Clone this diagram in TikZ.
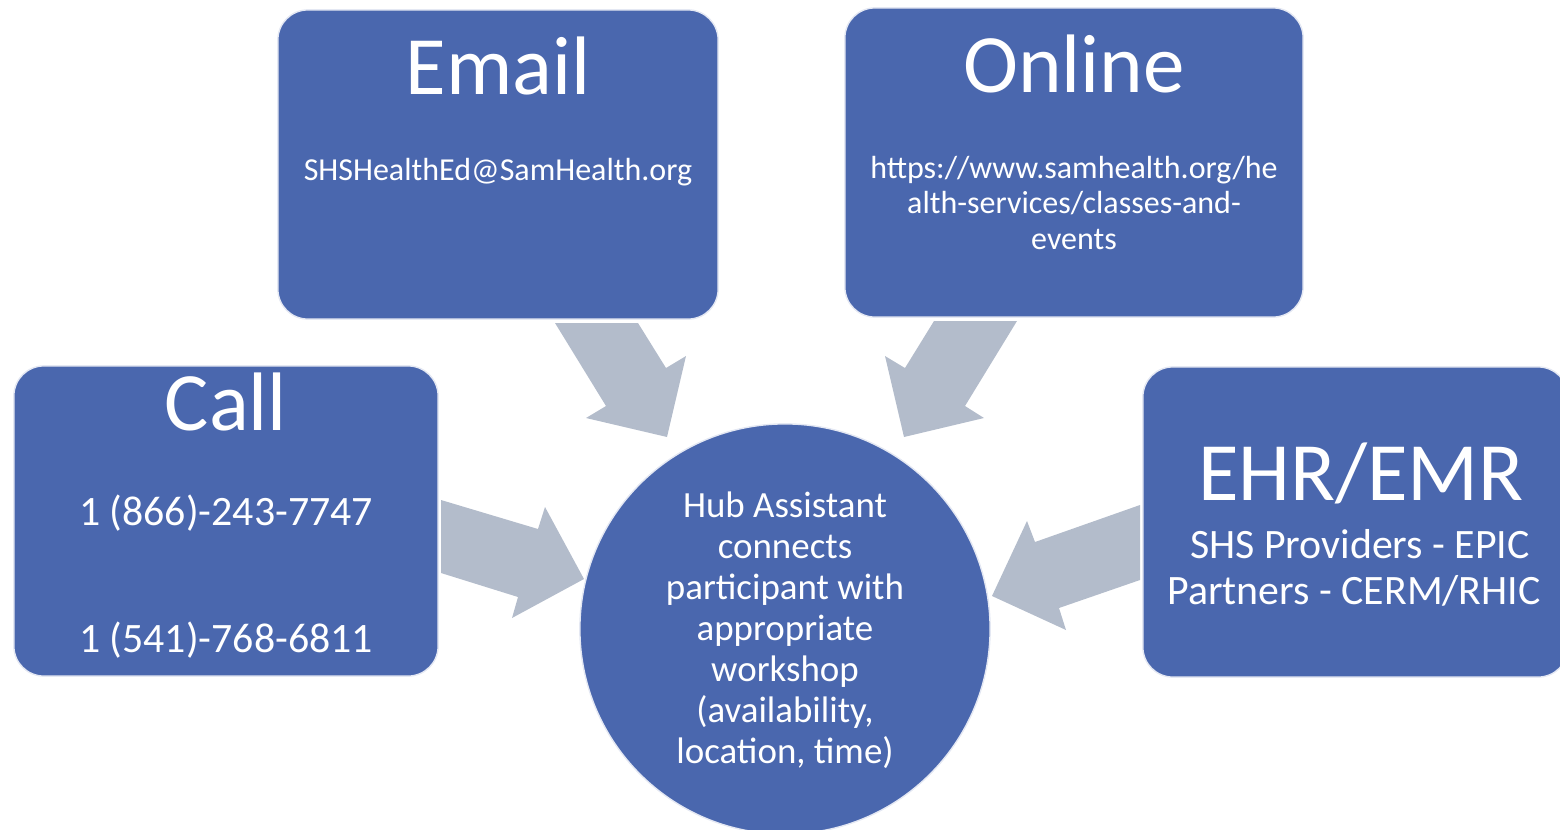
\documentclass[tikz,border=0pt]{standalone}
\usepackage{fontspec}
\setmainfont{Carlito}
\definecolor{boxblue}{RGB}{74,103,174}
\definecolor{arrowgrey}{RGB}{179,188,203}
\begin{document}
\begin{tikzpicture}[x=0.01cm,y=-0.01cm,
  box/.style={draw=white!85!boxblue,line width=0.4pt,fill=boxblue,rounded corners=0.3cm,inner sep=0pt,rectangle},
  hub/.style={draw=white!85!boxblue,line width=0.4pt,fill=boxblue,circle,inner sep=0pt,minimum size=4.1cm},
  blockarrow/.style={fill=arrowgrey},
  title/.style={text=white,anchor=base,inner sep=0pt,font=\fontsize{23.6}{28}\selectfont},
  small/.style={text=white,anchor=base,inner sep=0pt,font=\fontsize{9.1}{11}\selectfont},
  mid/.style={text=white,anchor=base,inner sep=0pt,font=\fontsize{11.9}{14}\selectfont},
  hubtext/.style={text=white,anchor=base,inner sep=0pt,font=\fontsize{10.5}{12.6}\selectfont}]
\useasboundingbox (0,0) rectangle (1560,830);
\clip (0,0) rectangle (1560,830);
% boxes
\node[box,minimum width=4.4cm,minimum height=3.09cm] (email) at (498,164.5) {};
\node[box,minimum width=4.58cm,minimum height=3.09cm] (online) at (1074,162.5) {};
\node[box,minimum width=4.24cm,minimum height=3.10cm] (call) at (226,521) {};
\node[box,minimum width=4.25cm,minimum height=3.10cm] (ehr) at (1355.5,522) {};
\node[hub] (hubc) at (785,629) {};
% block arrows
\fill[blockarrow] (555,323) -- (638,323) -- (666,368) -- (686,356) -- (667,437) -- (586,418) -- (606,406) -- cycle;
\fill[blockarrow] (1017,321) -- (934,321) -- (905,368) -- (885,356) -- (904,437) -- (984,418) -- (965,406) -- cycle;
\fill[blockarrow] (441,500) -- (538,529) -- (545,507) -- (584,579) -- (512,618) -- (518,597) -- (441,573) -- cycle;
\fill[blockarrow] (1140,505) -- (1035,542) -- (1027,521) -- (992,596) -- (1066,630) -- (1059,608) -- (1140,580) -- cycle;
% texts
\node[title] (emailt) at (498,94) {Email};
\node[small] (emaila) at (498,180) {SHSHealthEd@SamHealth.org};
\node[title] (onlinet) at (1074,92) {Online};
\node[small] (url1) at (1074,178) {https://www.samhealth.org/he};
\node[small] (url2) at (1074,213.5) {alth-services/classes-and-};
\node[small] (url3) at (1074,249) {events};
\node[title] (callt) at (226,430) {Call};
\node[mid] (ph1) at (226,525) {1 (866)-243-7747};
\node[mid] (ph2) at (226,652) {1 (541)-768-6811};
\node[title] (ehrt) at (1361,500) {EHR/EMR};
\node[mid] (ehr1) at (1360,558) {SHS Providers - EPIC};
\node[mid] (ehr2) at (1354,604) {Partners - CERM/RHIC};
\node[hubtext] (h1) at (785,517) {Hub Assistant};
\node[hubtext] (h2) at (785,558) {connects};
\node[hubtext] (h3) at (785,599) {participant with};
\node[hubtext] (h4) at (785,640) {appropriate};
\node[hubtext] (h5) at (785,681) {workshop};
\node[hubtext] (h6) at (785,722) {(availability,};
\node[hubtext] (h7) at (785,763) {location, time)};
\end{tikzpicture}
\end{document}
